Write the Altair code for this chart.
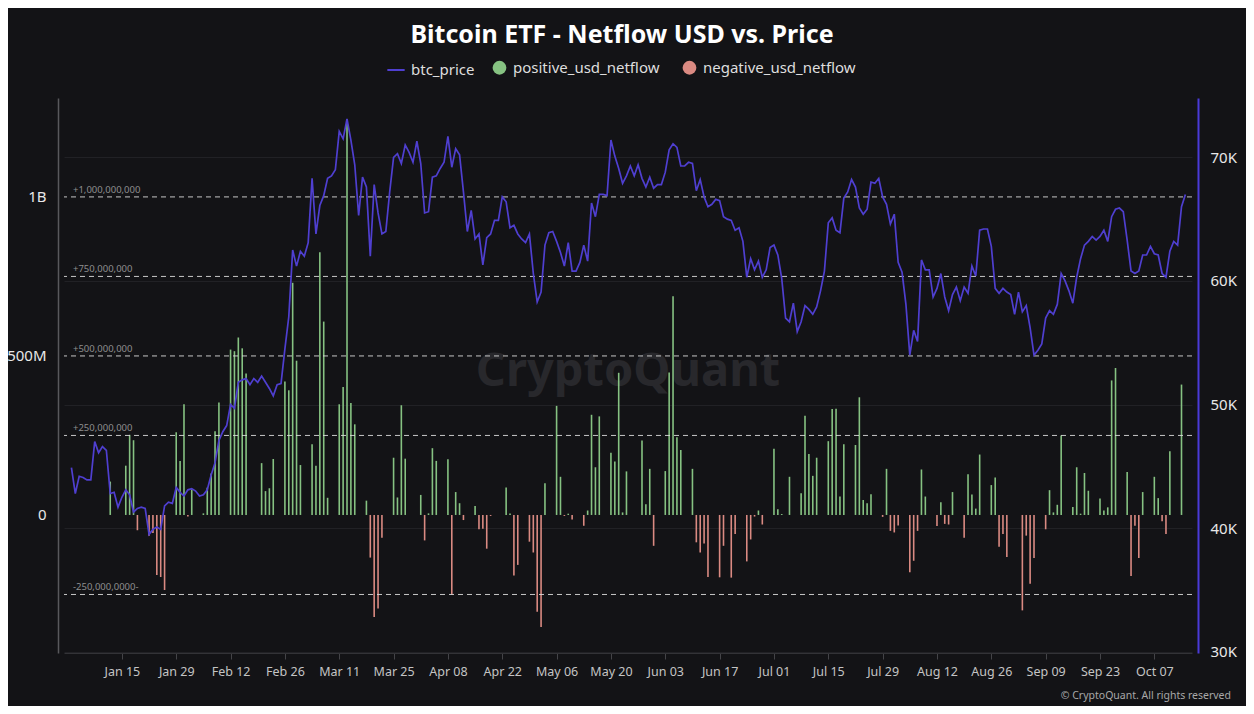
import altair as alt
import pandas as pd

# ---------------- data ----------------
# BTC daily price (thousands USD), one list per month
price_jan = [44.9, 42.8, 44.2, 44.1, 43.9, 43.9, 47.0, 46.1, 46.6, 46.3, 42.8, 42.9, 41.7, 42.5, 43.1,
             42.7, 41.3, 41.6, 41.7, 41.6, 39.5, 39.9, 40.1, 39.9, 41.8, 42.1, 42.0, 43.3, 42.9, 42.6]  # Jan 2-31
price_feb = [43.1, 43.2, 43.0, 42.6, 42.7, 43.1, 44.3, 45.3, 47.1, 47.8, 48.3, 50.0, 49.7, 51.8, 52.0,
             52.1, 51.6, 52.1, 51.8, 52.3, 51.8, 51.3, 50.7, 51.6, 51.7, 54.5, 57.1, 62.5, 61.2]
price_mar = [62.4, 62.0, 63.1, 68.3, 63.8, 66.1, 66.9, 68.3, 68.5, 69.0, 72.1, 71.5, 73.1, 71.4, 69.4,
             65.3, 68.4, 67.6, 62.0, 67.8, 65.5, 63.8, 64.0, 67.2, 70.0, 70.3, 69.5, 71.0, 70.4, 69.6, 71.3]
price_apr = [69.5, 65.5, 65.6, 68.4, 68.5, 69.1, 69.6, 71.7, 69.2, 70.7, 70.2, 67.2, 64.0, 65.7, 63.4,
             63.8, 61.3, 63.5, 63.8, 64.9, 64.9, 66.8, 66.4, 64.3, 64.5, 63.8, 63.4, 63.1, 63.8, 60.6]
price_may = [58.3, 59.1, 62.9, 63.9, 64.0, 63.2, 62.3, 61.2, 63.1, 60.8, 60.8, 61.5, 62.9, 61.6, 66.3,
             65.2, 67.0, 67.0, 66.9, 71.4, 70.1, 69.1, 67.9, 68.5, 69.3, 68.5, 69.4, 68.3, 67.6, 68.4, 67.5]
price_jun = [67.8, 67.8, 68.8, 70.6, 71.1, 70.8, 69.3, 69.3, 69.6, 69.5, 67.3, 68.2, 66.8, 66.0, 66.2,
             66.6, 66.5, 65.2, 65.0, 64.9, 64.1, 64.3, 63.2, 60.3, 61.8, 60.9, 61.6, 60.3, 60.9, 62.7]
price_jul = [62.9, 62.1, 60.2, 57.0, 56.7, 58.2, 55.9, 56.7, 58.0, 57.7, 57.3, 57.9, 59.2, 60.8, 64.7,
             65.1, 64.1, 63.9, 66.7, 67.2, 68.2, 67.6, 65.9, 65.4, 65.8, 68.0, 67.9, 68.3, 66.8, 66.2, 64.6]
price_aug = [65.4, 61.5, 60.7, 58.1, 54.0, 56.0, 55.1, 61.7, 60.9, 60.9, 58.7, 59.4, 60.6, 58.7, 57.6,
             58.9, 59.5, 58.4, 59.5, 59.0, 61.2, 60.4, 64.1, 64.2, 64.2, 62.8, 59.4, 59.0, 59.4, 59.1, 58.9]
price_sep = [57.3, 59.1, 57.5, 58.0, 56.2, 54.0, 54.4, 54.9, 57.0, 57.6, 57.3, 58.1, 60.6, 60.0, 59.2,
             58.2, 60.3, 61.8, 62.9, 63.2, 63.6, 63.3, 63.6, 64.1, 63.2, 65.2, 65.8, 65.9, 65.6, 63.3]
price_oct = [60.8, 60.6, 60.8, 62.1, 62.1, 62.8, 62.2, 62.1, 60.6, 60.3, 62.4, 63.2, 62.9, 66.0, 67.0]

# ETF net flow (million USD) per trading day
flow_dates = [
    "2024-01-12", "2024-01-16", "2024-01-17", "2024-01-18", "2024-01-19", "2024-01-22", "2024-01-23",
    "2024-01-24", "2024-01-25", "2024-01-26", "2024-01-29", "2024-01-30", "2024-01-31", "2024-02-01",
    "2024-02-02", "2024-02-05", "2024-02-06", "2024-02-07", "2024-02-08", "2024-02-09", "2024-02-12",
    "2024-02-13", "2024-02-14", "2024-02-15", "2024-02-16", "2024-02-20", "2024-02-21", "2024-02-22",
    "2024-02-23", "2024-02-26", "2024-02-27", "2024-02-28", "2024-02-29", "2024-03-01", "2024-03-04",
    "2024-03-05", "2024-03-06", "2024-03-07", "2024-03-08", "2024-03-11", "2024-03-12", "2024-03-13",
    "2024-03-14", "2024-03-15", "2024-03-18", "2024-03-19", "2024-03-20", "2024-03-21", "2024-03-22",
    "2024-03-25", "2024-03-26", "2024-03-27", "2024-03-28", "2024-04-01", "2024-04-02", "2024-04-03",
    "2024-04-04", "2024-04-05", "2024-04-08", "2024-04-09", "2024-04-10", "2024-04-11", "2024-04-12",
    "2024-04-15", "2024-04-16", "2024-04-17", "2024-04-18", "2024-04-19", "2024-04-23", "2024-04-24",
    "2024-04-25", "2024-04-26", "2024-04-29", "2024-04-30", "2024-05-01", "2024-05-02", "2024-05-03",
    "2024-05-06", "2024-05-07", "2024-05-08", "2024-05-09", "2024-05-10", "2024-05-13", "2024-05-14",
    "2024-05-15", "2024-05-16", "2024-05-17", "2024-05-20", "2024-05-21", "2024-05-22", "2024-05-23",
    "2024-05-24", "2024-05-28", "2024-05-29", "2024-05-30", "2024-05-31", "2024-06-03", "2024-06-04",
    "2024-06-05", "2024-06-06", "2024-06-07", "2024-06-10", "2024-06-11", "2024-06-12", "2024-06-13",
    "2024-06-14", "2024-06-17", "2024-06-18", "2024-06-20", "2024-06-21", "2024-06-24", "2024-06-25",
    "2024-06-26", "2024-06-27", "2024-06-28", "2024-07-01", "2024-07-02", "2024-07-03", "2024-07-05",
    "2024-07-08", "2024-07-09", "2024-07-10", "2024-07-11", "2024-07-12", "2024-07-15", "2024-07-16",
    "2024-07-17", "2024-07-18", "2024-07-19", "2024-07-22", "2024-07-23", "2024-07-24", "2024-07-25",
    "2024-07-26", "2024-07-29", "2024-07-30", "2024-07-31", "2024-08-01", "2024-08-02", "2024-08-05",
    "2024-08-06", "2024-08-07", "2024-08-08", "2024-08-09", "2024-08-12", "2024-08-13", "2024-08-14",
    "2024-08-15", "2024-08-16", "2024-08-19", "2024-08-20", "2024-08-21", "2024-08-22", "2024-08-23",
    "2024-08-26", "2024-08-27", "2024-08-28", "2024-08-29", "2024-08-30", "2024-09-03", "2024-09-04",
    "2024-09-05", "2024-09-06", "2024-09-09", "2024-09-10", "2024-09-11", "2024-09-12", "2024-09-13",
    "2024-09-16", "2024-09-17", "2024-09-18", "2024-09-19", "2024-09-20", "2024-09-23", "2024-09-24",
    "2024-09-25", "2024-09-26", "2024-09-27", "2024-09-30", "2024-10-01", "2024-10-02", "2024-10-03",
    "2024-10-04", "2024-10-07", "2024-10-08", "2024-10-09", "2024-10-10", "2024-10-11", "2024-10-14",
]
flow_musd = [
    105, 155, 252, 235, -48, -65, -57,
    -189, -195, -236, 260, 170, 348, -5,
    80, 5, 86, 130, 263, 354, 520,
    515, 558, 524, 445, 163, 75, 84,
    176, 420, 392, 730, 485, 157, 222,
    155, 826, 608, 54, 348, 402, 1245,
    352, 285, 45, -134, -321, -294, -72,
    180, 55, 345, 177, 63, -80, 5,
    210, 170, 175, -250, 72, 37, -16,
    28, -45, -43, -106, -3, 86, 5,
    -190, -157, -84, -118, -304, -352, 100,
    343, 120, -3, 4, -14, -34, 14,
    315, 150, 310, 196, 168, 447, 8,
    137, 234, 34, 145, -97, 138, 448,
    688, 244, 204, 145, -86, -118, -90,
    -195, -196, -97, -197, -60, -146, -77,
    -5, 14, -30, 208, 18, 3, 120,
    68, 312, 192, 123, 180, 232, 333,
    334, 58, 222, 220, 370, 47, 37,
    65, -6, 145, -50, -55, -33, -180,
    -144, -50, 143, 58, -35, 40, -28,
    -30, 72, -72, 128, 64, 20, 190,
    94, 118, -100, -60, -132, -300, -65,
    -216, -135, -45, 78, 8, 32, 250,
    25, 150, 4, 132, 76, 52, 14,
    24, 423, 462, 135, -192, -34, -135,
    72, 120, 53, -20, -60, 200, 410,
]

ref_values = [1.0e9, 7.5e8, 5.0e8, 2.5e8, -2.5e8]
ref_labels = ["+1,000,000,000", "+750,000,000", "+500,000,000", "+250,000,000", "-250,000,0000-"]

x_tick_dates = [(1, 15), (1, 29), (2, 12), (2, 26), (3, 11), (3, 25), (4, 8), (4, 22), (5, 6), (5, 20),
                (6, 3), (6, 17), (7, 1), (7, 15), (7, 29), (8, 12), (8, 26), (9, 9), (9, 23), (10, 7)]

series_names = ["btc_price", "positive_usd_netflow", "negative_usd_netflow"]
title_text = "Bitcoin ETF - Netflow USD vs. Price"

# ---------------- tables ----------------
months = [(1, 2, price_jan), (2, 1, price_feb), (3, 1, price_mar), (4, 1, price_apr), (5, 1, price_may),
          (6, 1, price_jun), (7, 1, price_jul), (8, 1, price_aug), (9, 1, price_sep), (10, 1, price_oct)]
p_dates, p_vals = [], []
for m, d0, vals in months:
    for i, v in enumerate(vals):
        p_dates.append(f"2024-{m:02d}-{d0 + i:02d}")
        p_vals.append(v * 1000)
price_df = pd.DataFrame({"date": p_dates, "price": p_vals, "series": series_names[0]})

flow_df = pd.DataFrame({"date": flow_dates, "netflow": [v * 1e6 for v in flow_musd]})
flow_df["series"] = [series_names[1] if v >= 0 else series_names[2] for v in flow_musd]

ref_df = pd.DataFrame({"value": ref_values, "label": ref_labels})

# ---------------- styling ----------------
BG = "#131316"
PURPLE = "#4f3fd0"
GREEN = "#86c282"
RED = "#da8a82"
FONT = "Noto Sans"

x_scale = alt.Scale(type="utc", domain=[alt.DateTime(year=2024, month=1, date=1, hours=9, utc=True),
                                        alt.DateTime(year=2024, month=10, date=15, hours=10, utc=True)])
x_axis = alt.Axis(values=[alt.DateTime(year=2024, month=m, date=d, utc=True) for m, d in x_tick_dates],
                  format="%b %d", title=None, grid=False, labelColor="#c4c4c4", labelFontSize=12.5,
                  labelFont=FONT, tickColor="#444448", tickSize=6, domainColor="#333337",
                  labelPadding=6, labelFlush=False)

left_scale = alt.Scale(domain=[-434e6, 1311e6], nice=False, zero=False)
left_axis = alt.Axis(values=[0, 5e8, 1e9], title=None, orient="left", offset=6, grid=False, ticks=False,
                     domainColor="#58585c", domainWidth=1.5, labelColor="#e8e8e8", labelFontSize=15,
                     labelFont=FONT, labelPadding=12,
                     labelExpr="datum.value == 0 ? '0' : datum.value >= 1e9 ? format(datum.value/1e9, 'd') + 'B' : format(datum.value/1e6, 'd') + 'M'")

right_scale = alt.Scale(domain=[29900, 74800], nice=False, zero=False)
right_axis = alt.Axis(values=[30000, 40000, 50000, 60000, 70000], title=None, orient="right", offset=6,
                      grid=True, gridColor="#212125", gridWidth=1, ticks=False,
                      domainColor="#4a3ad8", domainWidth=2, labelColor="#e8e8e8", labelFontSize=15,
                      labelFont=FONT, labelPadding=12,
                      labelExpr="format(datum.value/1000, 'd') + 'K'")

# ---------------- layers ----------------
bars = alt.Chart(flow_df).mark_bar(width=1.6).encode(
    x=alt.X("date:T", scale=x_scale, axis=x_axis),
    y=alt.Y("netflow:Q", scale=left_scale, axis=left_axis),
    y2=alt.datum(0),
    fill=alt.Fill("series:N", scale=alt.Scale(domain=series_names[1:], range=[GREEN, RED]),
                  legend=alt.Legend(title=None, orient="none", legendX=428, legendY=-38,
                                    direction="horizontal", symbolType="circle", symbolSize=190,
                                    symbolStrokeWidth=0, labelFontSize=15, labelFont=FONT,
                                    labelColor="#dedede", labelOffset=6, columnPadding=22, padding=0)),
)

ref_rules = alt.Chart(ref_df).mark_rule(strokeDash=[5, 4], color="#dadada", strokeWidth=1, opacity=0.9).encode(
    y=alt.Y("value:Q", scale=left_scale, axis=left_axis),
)

ref_text = alt.Chart(ref_df).mark_text(align="left", baseline="bottom", dy=-2, fontSize=9.5,
                                       color="#8e8e8e", font=FONT).encode(
    x=alt.value(9),
    y=alt.Y("value:Q", scale=left_scale, axis=left_axis),
    text="label:N",
)

left_layer = alt.layer(bars, ref_rules, ref_text)

price_line = alt.Chart(price_df).mark_line(strokeWidth=1.7).encode(
    x=alt.X("date:T", scale=x_scale, axis=x_axis),
    y=alt.Y("price:Q", scale=right_scale, axis=right_axis),
    stroke=alt.Stroke("series:N", scale=alt.Scale(domain=series_names[:1], range=[PURPLE]),
                      legend=alt.Legend(title=None, orient="none", legendX=322, legendY=-38,
                                        direction="horizontal", symbolType="stroke", symbolSize=300,
                                        symbolStrokeWidth=2, labelFontSize=15, labelFont=FONT,
                                        labelColor="#dedede", labelOffset=5, padding=0)),
)

watermark = alt.Chart(pd.DataFrame({"t": ["CryptoQuant"]})).mark_text(
    fontSize=47, fontWeight="bold", color="#28282c", font=FONT, align="center", baseline="middle"
).encode(x=alt.value(564), y=alt.value(274), text="t:N")

title = alt.Chart(pd.DataFrame({"t": [title_text]})).mark_text(
    fontSize=25, fontWeight="bold", color="#ffffff", font=FONT, align="center", baseline="middle"
).encode(x=alt.value(558), y=alt.value(-63), text="t:N")

copyright_txt = alt.Chart(pd.DataFrame({"t": ["\u00a9 CryptoQuant. All rights reserved"]})).mark_text(
    fontSize=10.5, color="#a8a8a8", font=FONT, align="right", baseline="middle"
).encode(x=alt.value(1167), y=alt.value(598), text="t:N")

chart = alt.layer(watermark, left_layer, price_line, title, copyright_txt).resolve_scale(
    y="independent"
).properties(
    width=1128, height=555,
    autosize=alt.AutoSizeParams(type="none"),
    padding={"left": 56, "top": 90, "right": 54, "bottom": 53},
).configure(background=BG).configure_view(stroke=None)

chart.save("out.html", embed_options={"renderer": "svg", "actions": False})
